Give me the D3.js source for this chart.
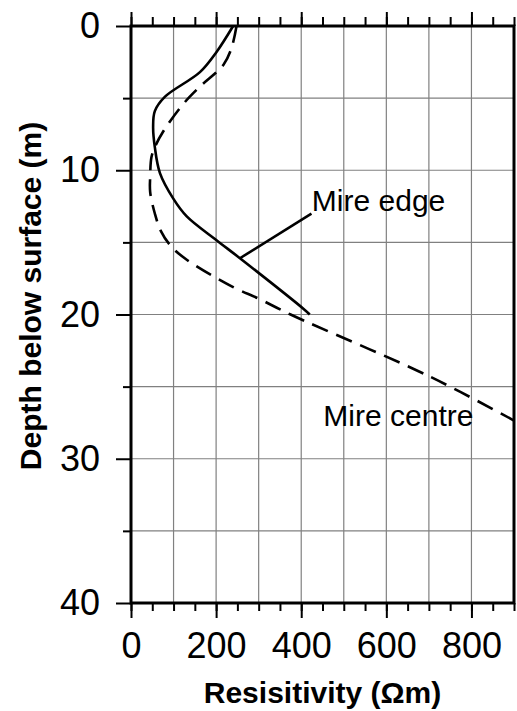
<!DOCTYPE html>
<html>
<head>
<meta charset="utf-8">
<script src="https://cdn.jsdelivr.net/npm/d3@7"></script>
<style>
  body { margin: 0; background: #fff; }
  svg { display: block; }
</style>
</head>
<body>
<div id="chart"></div>
<script>
const width = 517;
const height = 711;
const margin = { top: 26, right: 3, bottom: 108, left: 131 };
const inner_width = width - margin.left - margin.right;
const inner_height = height - margin.top - margin.bottom;

// resistivity (ohm m) vs depth (m)
const edgeResistivity = [240, 201, 162, 80, 56, 52, 56, 68, 99, 131, 201, 256, 405, 420];
const edgeDepth =       [0, 1.8, 3.2, 4.9, 5.9, 7.0, 8.4, 10.2, 11.95, 13.2, 14.85, 16.1, 19.6, 20.0];

const centreResistivity = [248, 236, 217, 162, 123, 76, 56, 48, 45, 45, 56, 70, 95, 131, 240, 300, 375, 702, 900];
const centreDepth =       [0, 1.55, 2.7, 4.2, 5.4, 7.3, 8.4, 9.1, 10.5, 11.5, 13.0, 14.2, 15.3, 16.2, 18.1, 18.9, 20.0, 24.3, 27.35];

const xTicks = [0, 200, 400, 600, 800];
const yTicks = [0, 10, 20, 30, 40];

var xScale = d3.scaleLinear().domain([0, 900]).range([0, inner_width]);
var yScale = d3.scaleLinear().domain([0, 40]).range([0, inner_height]);

var svg = d3.select('#chart').append('svg')
    .attr('width', width)
    .attr('height', height);

var g = svg.append('g')
    .attr('transform', `translate(${margin.left},${margin.top})`);

// grids
g.append('g')
    .selectAll('line')
    .data(d3.range(100, 900, 100)).enter()
    .append('line')
    .attr('x1', d => xScale(d)).attr('x2', d => xScale(d))
    .attr('y1', 0).attr('y2', inner_height)
    .style('stroke', '#808080')
    .style('stroke-width', 1.2);
g.append('g')
    .selectAll('line')
    .data(d3.range(5, 40, 5)).enter()
    .append('line')
    .attr('x1', 0).attr('x2', inner_width)
    .attr('y1', d => yScale(d)).attr('y2', d => yScale(d))
    .style('stroke', '#808080')
    .style('stroke-width', 1.2);

// axes: minor + major ticks
function styleAxis(sel) {
    sel.select('.domain').remove();
    sel.selectAll('.tick line').style('stroke', '#000').style('stroke-width', 2);
    sel.selectAll('.tick text')
        .style('font-family', '"Liberation Sans", Arial, sans-serif')
        .style('font-size', '36px')
        .style('fill', '#000');
}

g.append('g')
    .attr('transform', `translate(0,${inner_height})`)
    .call(d3.axisBottom(xScale).tickValues(d3.range(0, 901, 50)).tickSize(8).tickFormat(''))
    .call(styleAxis);
g.append('g')
    .attr('transform', `translate(0,${inner_height})`)
    .call(d3.axisBottom(xScale).tickValues(xTicks).tickSize(15).tickPadding(14).tickFormat(d3.format('d')))
    .call(styleAxis);

g.append('g')
    .call(d3.axisTop(xScale).tickValues(d3.range(0, 901, 50)).tickSize(9).tickFormat(''))
    .call(styleAxis);
g.append('g')
    .call(d3.axisTop(xScale).tickValues(d3.range(0, 901, 200)).tickSize(14).tickFormat(''))
    .call(styleAxis);

g.append('g')
    .call(d3.axisLeft(yScale).tickValues(d3.range(5, 40, 10)).tickSize(8).tickFormat(''))
    .call(styleAxis);
g.append('g')
    .call(d3.axisLeft(yScale).tickValues(yTicks).tickSize(15).tickPadding(16).tickFormat(d3.format('d')))
    .call(styleAxis);

// curves
var line = d3.line()
    .x(d => xScale(d[0]))
    .y(d => yScale(d[1]))
    .curve(d3.curveCatmullRom.alpha(0.5));

g.append('path')
    .datum(d3.zip(edgeResistivity, edgeDepth))
    .attr('d', line)
    .style('fill', 'none')
    .style('stroke', '#000')
    .style('stroke-width', 2.6);

g.append('path')
    .datum(d3.zip(centreResistivity, centreDepth))
    .attr('d', line)
    .style('fill', 'none')
    .style('stroke', '#000')
    .style('stroke-width', 2.6)
    .style('stroke-dasharray', '17,9');

// frame
g.append('rect')
    .attr('width', inner_width)
    .attr('height', inner_height)
    .style('fill', 'none')
    .style('stroke', '#000')
    .style('stroke-width', 3);

// labels
var labelFont = '"Liberation Sans", Arial, sans-serif';
g.append('line')
    .attr('x1', xScale(256)).attr('y1', yScale(16.1))
    .attr('x2', xScale(424)).attr('y2', yScale(13.0))
    .style('stroke', '#000')
    .style('stroke-width', 2.6);
g.append('text')
    .attr('x', xScale(425))
    .attr('y', yScale(12.8))
    .style('font-family', labelFont)
    .style('font-size', '30px')
    .text('Mire edge');
g.append('text')
    .attr('x', xScale(452))
    .attr('y', yScale(27.75))
    .style('font-family', labelFont)
    .style('font-size', '30px')
    .text('Mire centre');

svg.append('text')
    .attr('x', margin.left + inner_width / 2)
    .attr('y', 703)
    .style('text-anchor', 'middle')
    .style('font-family', labelFont)
    .style('font-size', '30px')
    .style('font-weight', 700)
    .text('Resisitivity (Ωm)');

svg.append('text')
    .attr('transform', 'translate(41,296) rotate(-90)')
    .style('text-anchor', 'middle')
    .style('font-family', labelFont)
    .style('font-size', '30px')
    .style('font-weight', 700)
    .text('Depth below surface (m)');
</script>
</body>
</html>
